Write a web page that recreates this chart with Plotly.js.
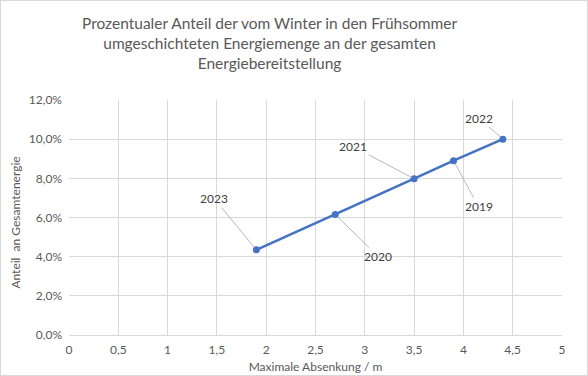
<!DOCTYPE html>
<html><head><meta charset="utf-8">
<script src="https://cdn.plot.ly/plotly-3.0.1.min.js"></script>
<style>html,body{margin:0;padding:0;background:#fff}#c{width:586px;height:374px;border:1px solid #d9d9d9}</style>
</head><body><div id="c"></div>
<script>
const years = ['2023','2020','2021','2019','2022'];
const absenkung = [1.9, 2.7, 3.5, 3.9, 4.4];
const anteil = [0.0435, 0.0615, 0.0798, 0.0890, 0.1000];
const xTicks = [0,0.5,1,1.5,2,2.5,3,3.5,4,4.5,5];
const labelOffsets = [[-42,-51],[43,42],[-61,-32],[25,46],[-24,-21]];
const titleText = 'Prozentualer Anteil der vom Winter in den Frühsommer<br>umgeschichteten Energiemenge an der gesamten<br>Energiebereitstellung';

const gray = '#595959';
const font = 'Lato, "Open Sans", sans-serif';
const annotations = years.map((yr,i)=>({
  x: absenkung[i], y: anteil[i], xref:'x', yref:'y', text: yr,
  showarrow:true, arrowhead:0, arrowwidth:0.8, arrowcolor:'#a6a6a6',
  ax: labelOffsets[i][0], ay: labelOffsets[i][1], standoff:3,
  font:{family:font,size:12,color:'#404040'}
}));
annotations.push({xref:'paper',yref:'paper',x:-0.128,y:0.48,text:'Anteil&nbsp;&nbsp;an Gesamtenergie',textangle:-90,showarrow:false,font:{family:font,size:12,color:gray}});
annotations.push({xref:'paper',yref:'paper',x:0.406,xanchor:'center',y:1.375,yanchor:'top',text:titleText,showarrow:false,font:{family:font,size:15.5,color:gray}});

Plotly.newPlot('c',[{
  x: absenkung, y: anteil, type:'scatter', mode:'lines+markers',
  line:{color:'#4472C4',width:2.5}, marker:{color:'#4472C4',size:7}, hoverinfo:'skip'
}],{
  width:586,height:374,separators:',.',showlegend:false,
  paper_bgcolor:'#fff',plot_bgcolor:'#fff',
  margin:{l:68,r:25,t:99,b:40},
  xaxis:{range:[0,5],tickvals:xTicks,ticktext:xTicks.map(v=>String(v).replace('.',',')),
    showgrid:true,gridcolor:'#d9d9d9',gridwidth:1,zeroline:false,showline:true,linecolor:'#d9d9d9',
    ticks:'',ticklabelstandoff:4,tickfont:{family:font,size:12,color:gray},
    title:{text:'Maximale Absenkung / m',font:{family:font,size:12,color:gray},standoff:6}},
  yaxis:{range:[0,0.12],dtick:0.02,tickformat:'.1%',
    showgrid:true,gridcolor:'#d9d9d9',gridwidth:1,zeroline:false,showline:false,
    ticks:'',ticklabelstandoff:6,tickfont:{family:font,size:12,color:gray}},
  annotations:annotations
},{staticPlot:true,displayModeBar:false});
</script></body></html>
